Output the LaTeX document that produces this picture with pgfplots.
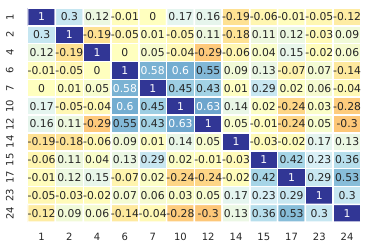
\documentclass[border=0pt]{standalone}
\usepackage{pgfplots}
\pgfplotsset{compat=1.18}
\usepackage{pgfplotstable}
\usepackage{fontspec}
\setmainfont{DejaVu Sans}
\definecolor{txt}{HTML}{262626}
\pgfplotstableread{
x y v w
0 0 1 1
1 0 0.3 0
2 0 0.12 0
3 0 -0.01 0
4 0 0 0
5 0 0.17 0
6 0 0.16 0
7 0 -0.19 0
8 0 -0.06 0
9 0 -0.01 0
10 0 -0.05 0
11 0 -0.12 0
0 1 0.3 0
1 1 1 1
2 1 -0.19 0
3 1 -0.05 0
4 1 0.01 0
5 1 -0.05 0
6 1 0.11 0
7 1 -0.18 0
8 1 0.11 0
9 1 0.12 0
10 1 -0.03 0
11 1 0.09 0
0 2 0.12 0
1 2 -0.19 0
2 2 1 1
3 2 0 0
4 2 0.05 0
5 2 -0.04 0
6 2 -0.29 0
7 2 -0.06 0
8 2 0.04 0
9 2 0.15 0
10 2 -0.02 0
11 2 0.06 0
0 3 -0.01 0
1 3 -0.05 0
2 3 0 0
3 3 1 1
4 3 0.58 1
5 3 0.6 1
6 3 0.55 0
7 3 0.09 0
8 3 0.13 0
9 3 -0.07 0
10 3 0.07 0
11 3 -0.14 0
0 4 0 0
1 4 0.01 0
2 4 0.05 0
3 4 0.58 1
4 4 1 1
5 4 0.45 0
6 4 0.43 0
7 4 0.01 0
8 4 0.29 0
9 4 0.02 0
10 4 0.06 0
11 4 -0.04 0
0 5 0.17 0
1 5 -0.05 0
2 5 -0.04 0
3 5 0.6 1
4 5 0.45 0
5 5 1 1
6 5 0.63 1
7 5 0.14 0
8 5 0.02 0
9 5 -0.24 0
10 5 0.03 0
11 5 -0.28 0
0 6 0.16 0
1 6 0.11 0
2 6 -0.29 0
3 6 0.55 0
4 6 0.43 0
5 6 0.63 1
6 6 1 1
7 6 0.05 0
8 6 -0.01 0
9 6 -0.24 0
10 6 0.05 0
11 6 -0.3 0
0 7 -0.19 0
1 7 -0.18 0
2 7 -0.06 0
3 7 0.09 0
4 7 0.01 0
5 7 0.14 0
6 7 0.05 0
7 7 1 1
8 7 -0.03 0
9 7 -0.02 0
10 7 0.17 0
11 7 0.13 0
0 8 -0.06 0
1 8 0.11 0
2 8 0.04 0
3 8 0.13 0
4 8 0.29 0
5 8 0.02 0
6 8 -0.01 0
7 8 -0.03 0
8 8 1 1
9 8 0.42 0
10 8 0.23 0
11 8 0.36 0
0 9 -0.01 0
1 9 0.12 0
2 9 0.15 0
3 9 -0.07 0
4 9 0.02 0
5 9 -0.24 0
6 9 -0.24 0
7 9 -0.02 0
8 9 0.42 0
9 9 1 1
10 9 0.29 0
11 9 0.53 0
0 10 -0.05 0
1 10 -0.03 0
2 10 -0.02 0
3 10 0.07 0
4 10 0.06 0
5 10 0.03 0
6 10 0.05 0
7 10 0.17 0
8 10 0.23 0
9 10 0.29 0
10 10 1 1
11 10 0.3 0
0 11 -0.12 0
1 11 0.09 0
2 11 0.06 0
3 11 -0.14 0
4 11 -0.04 0
5 11 -0.28 0
6 11 -0.3 0
7 11 0.13 0
8 11 0.36 0
9 11 0.53 0
10 11 0.3 0
11 11 1 1
}\corr
\begin{document}
\begin{tikzpicture}
\begin{axis}[
  name=ax,
  scale only axis, width=333pt, height=214pt,
  xmin=-0.5, xmax=11.5, ymin=-0.5, ymax=11.5, y dir=reverse,
  axis line style={draw=none}, tick style={draw=none},
  xtick={0,...,11}, ytick={0,...,11},
  xticklabels={1,2,4,6,7,10,12,14,15,17,23,24},
  yticklabels={1,2,4,6,7,10,12,14,15,17,23,24},
  ticklabel style={font=\fontsize{10}{12}\selectfont, text=txt},
  xticklabel style={anchor=north, inner sep=0pt},
  xticklabel shift=11pt,
  yticklabel style={rotate=90, anchor=south, inner sep=0pt},
  yticklabel shift=14pt,
  colormap={rdylbu}{rgb255=(165,0,38) rgb255=(215,48,39) rgb255=(244,109,67) rgb255=(253,174,97) rgb255=(254,224,144) rgb255=(255,255,191) rgb255=(224,243,248) rgb255=(171,217,233) rgb255=(116,173,209) rgb255=(69,117,180) rgb255=(49,54,149)},
  point meta min=-1, point meta max=1,
]
\addplot[matrix plot*, mesh/cols=12, point meta=explicit, draw=white, line width=1.5pt] table[x=x,y=y,meta=v]{\corr};
\addplot[only marks, mark=none, point meta=explicit symbolic, nodes near coords,
  every node near coord/.style={font=\fontsize{10.8}{12}\selectfont, text=txt, anchor=center, inner sep=0pt},
  restrict expr to domain={\thisrow{w}}{-0.5:0.5}] table[x=x,y=y,meta=v]{\corr};
\addplot[only marks, mark=none, point meta=explicit symbolic, nodes near coords,
  every node near coord/.style={font=\fontsize{10.8}{12}\selectfont, text=white, anchor=center, inner sep=0pt},
  restrict expr to domain={\thisrow{w}}{0.5:1.5}] table[x=x,y=y,meta=v]{\corr};
\end{axis}
\path ([xshift=-27.7pt,yshift=-29pt]ax.south west) rectangle ([xshift=9pt,yshift=8pt]ax.north east);
\end{tikzpicture}
\end{document}
